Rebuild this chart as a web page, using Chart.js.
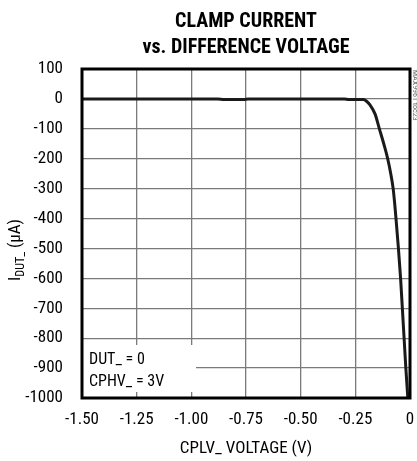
<!DOCTYPE html>
<html>
<head>
<meta charset="utf-8">
<script src="https://cdn.jsdelivr.net/npm/chart.js@4.4.0/dist/chart.umd.min.js"></script>
<style>
  html, body { margin: 0; padding: 0; background: #fff; }
  #wrap { width: 417px; height: 461px; }
</style>
</head>
<body>
<div id="wrap"><canvas id="clampCanvas" width="417" height="461"></canvas></div>
<script>
// CPLV_ voltage (V) and clamp current (uA)
var voltaje = [-1.5, -1.2, -0.88, -0.85, -0.76, -0.74, -0.5, -0.3, -0.28, -0.24, -0.213, -0.2, -0.183, -0.16, -0.14, -0.12, -0.102, -0.088, -0.077, -0.07, -0.064, -0.053, -0.043, -0.035, -0.027, -0.019, -0.01];
var corriente = [0, 0, 0, -2, -2, 0, 0, 0, -2, -2, -2, -7, -20, -50, -100, -150, -200, -250, -300, -350, -400, -500, -600, -700, -800, -900, -1000];

var ticksX = [-1.5, -1.25, -1.0, -0.75, -0.5, -0.25, 0];
var ticksY = [100, 0, -100, -200, -300, -400, -500, -600, -700, -800, -900, -1000];

var fuente = "'Roboto Condensed', 'DejaVu Sans Condensed', sans-serif";

var puntos = voltaje.map(function (v, i) { return { x: v, y: corriente[i] }; });

var ctx = document.getElementById("clampCanvas").getContext("2d");

// titles, notes box and frame drawn on top of the chart
var textos = {
  id: "textos",
  beforeDatasetsDraw: function (chart) {
    var c = chart.ctx, a = chart.chartArea;
    // white box behind the conditions note
    c.save();
    c.fillStyle = "#fff";
    c.fillRect(a.left + 1, 345, 113, 47);
    c.restore();
  },
  afterDraw: function (chart) {
    var c = chart.ctx, a = chart.chartArea;
    var cx = (a.left + a.right) / 2;
    c.save();
    c.fillStyle = "#000";
    c.textAlign = "center";
    c.textBaseline = "alphabetic";
    c.font = "bold 20px " + fuente;
    c.fillText("CLAMP CURRENT", cx, 27);
    c.fillText("vs. DIFFERENCE VOLTAGE", cx, 53);

    c.font = "16px " + fuente;
    c.textAlign = "left";
    c.fillText("DUT_ = 0", a.left + 7, 364);
    c.fillText("CPHV_ = 3V", a.left + 7, 386);

    // y axis title with subscript
    c.save();
    c.translate(20, 250);
    c.rotate(-Math.PI / 2);
    var parte1 = "I", parte2 = "DUT_", parte3 = " (\u00B5A)";
    c.font = "17px " + fuente;
    var w1 = c.measureText(parte1).width;
    var w3 = c.measureText(parte3).width;
    c.font = "12px " + fuente;
    var w2 = c.measureText(parte2).width;
    var x0 = -(w1 + w2 + w3) / 2;
    c.font = "17px " + fuente;
    c.fillText(parte1, x0, 0);
    c.font = "12px " + fuente;
    c.fillText(parte2, x0 + w1, 4);
    c.font = "17px " + fuente;
    c.fillText(parte3, x0 + w1 + w2, 0);
    c.restore();

    // small side reference text
    c.save();
    c.translate(413, 70);
    c.rotate(Math.PI / 2);
    c.font = "8px " + fuente;
    c.fillStyle = "#666";
    c.fillText("MAX9961 toc23", 0, 0);
    c.restore();

    // heavy frame
    c.strokeStyle = "#000";
    c.lineWidth = 3;
    c.strokeRect(a.left, a.top, a.right - a.left, a.bottom - a.top);
    c.restore();
  }
};

var chartConfig = {
  type: "line",
  data: {
    datasets: [
      {
        label: "IDUT_",
        data: puntos,
        borderColor: "#1a1a1a",
        borderWidth: 3,
        pointRadius: 0,
        fill: false,
        cubicInterpolationMode: "monotone"
      }
    ]
  },
  options: {
    responsive: false,
    animation: false,
    layout: {
      padding: { left: 0, right: 7, top: 69, bottom: 0 }
    },
    plugins: {
      legend: { display: false },
      title: { display: false },
      tooltip: { enabled: false }
    },
    scales: {
      x: {
        type: "linear",
        min: -1.5,
        max: 0,
        afterFit: function (scale) {
          scale.height = 63;
          scale.paddingLeft = 0;
          scale.paddingRight = 0;
        },
        afterBuildTicks: function (scale) {
          scale.ticks = ticksX.map(function (v) { return { value: v }; });
        },
        ticks: {
          color: "#000",
          padding: 12,
          maxRotation: 0,
          font: { family: fuente, size: 17 },
          callback: function (v) { return v === 0 ? "0" : v.toFixed(2); }
        },
        grid: { color: "#7a7a7a", lineWidth: 1.3, drawTicks: false },
        border: { display: false },
        title: {
          display: true,
          text: "CPLV_ VOLTAGE (V)",
          color: "#000",
          padding: { top: 0, bottom: 2 },
          font: { family: fuente, size: 17 }
        }
      },
      y: {
        min: -1000,
        max: 100,
        afterFit: function (scale) {
          scale.width = 82;
          scale.paddingTop = 0;
          scale.paddingBottom = 0;
        },
        afterBuildTicks: function (scale) {
          scale.ticks = ticksY.map(function (v) { return { value: v }; });
        },
        ticks: {
          color: "#000",
          padding: 19,
          font: { family: fuente, size: 17 },
          callback: function (v) { return String(v); }
        },
        grid: { color: "#7a7a7a", lineWidth: 1.3, drawTicks: false },
        border: { display: false }
      }
    }
  },
  plugins: [textos]
};

var myChart = new Chart(ctx, chartConfig);
</script>
</body>
</html>
